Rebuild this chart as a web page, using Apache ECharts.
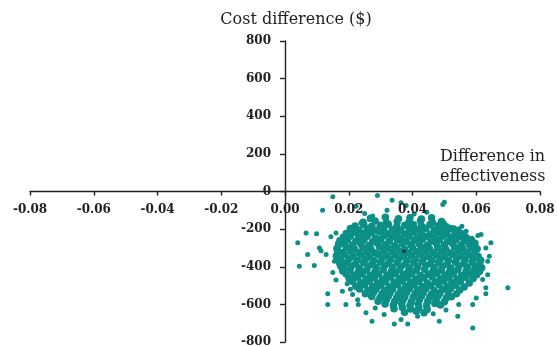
<!DOCTYPE html>
<html>
<head>
<meta charset="utf-8">
<script src="https://cdn.jsdelivr.net/npm/echarts@6/dist/echarts.min.js"></script>
<style>
  html, body { margin: 0; padding: 0; background: #fff; }
  #chart { width: 558px; height: 346px; }
</style>
</head>
<body>
<div id="chart"></div>
<script>
// axis ticks
const xTicks = [-0.08, -0.06, -0.04, -0.02, 0, 0.02, 0.04, 0.06, 0.08];
const yTicks = [-800, -600, -400, -200, 0, 200, 400, 600, 800];

// bootstrap replicates: [effect difference, cost difference]
const cloudCore = [
  [0.0268,-142],[0.0315,-137],[0.0356,-145],[0.0392,-139],[0.0428,-146],[0.046,-140],
  [0.0245,-163],[0.0283,-157],[0.0318,-166],[0.0352,-159],[0.0389,-164],[0.0425,-156],[0.0462,-165],[0.0491,-159],
  [0.022,-183],[0.0247,-176],[0.0272,-185],[0.0299,-179],[0.0324,-174],[0.0351,-186],[0.0376,-180],[0.0403,-177],[0.0428,-184],[0.0455,-175],[0.0481,-182],[0.0506,-188],
  [0.0205,-197],[0.0232,-204],[0.0258,-198],[0.0285,-206],[0.031,-195],[0.0337,-202],[0.0363,-207],[0.039,-199],[0.0415,-203],[0.0442,-196],[0.0468,-205],[0.0494,-200],[0.052,-197],[0.0543,-206],
  [0.0192,-223],[0.0218,-216],[0.0245,-225],[0.027,-219],[0.0297,-214],[0.0323,-224],[0.035,-218],[0.0376,-226],[0.0402,-215],[0.0428,-221],[0.0455,-227],[0.048,-217],[0.0507,-224],[0.0533,-219],[0.0558,-226],
  [0.0183,-243],[0.0205,-236],[0.0231,-245],[0.0258,-238],[0.0284,-247],[0.031,-235],[0.0337,-242],[0.0362,-248],[0.0389,-237],[0.0415,-244],[0.0441,-239],[0.0468,-246],[0.0494,-236],[0.052,-243],[0.0546,-238],[0.0568,-245],
  [0.0172,-262],[0.0196,-256],[0.0222,-265],[0.0248,-258],[0.0275,-267],[0.03,-255],[0.0327,-263],[0.0353,-257],[0.038,-266],[0.0405,-259],[0.0432,-254],[0.0458,-264],[0.0484,-258],[0.051,-266],[0.0537,-255],[0.0562,-262],[0.0585,-257],
  [0.0168,-284],[0.0186,-276],[0.0212,-285],[0.0238,-278],[0.0264,-287],[0.029,-275],[0.0316,-282],[0.0343,-288],[0.0368,-277],[0.0395,-284],[0.0421,-279],[0.0447,-286],[0.0474,-274],[0.05,-283],[0.0526,-277],[0.0552,-286],[0.0578,-280],[0.0596,-275],
  [0.0163,-303],[0.0192,-296],[0.0218,-305],[0.0244,-298],[0.027,-307],[0.0297,-295],[0.0322,-302],[0.0349,-297],[0.0375,-306],[0.04,-299],[0.0427,-294],[0.0453,-304],[0.0479,-298],[0.0505,-307],[0.0532,-296],[0.0558,-303],[0.0584,-297],[0.0603,-305],
  [0.0165,-318],[0.0181,-324],[0.0206,-316],[0.0232,-325],[0.0258,-319],[0.0284,-327],[0.031,-315],[0.0336,-322],[0.0362,-317],[0.0388,-326],[0.0414,-320],[0.044,-314],[0.0466,-324],[0.0492,-318],[0.0518,-327],[0.0544,-316],[0.057,-323],[0.0596,-317],
  [0.0161,-343],[0.0188,-336],[0.0214,-345],[0.024,-338],[0.0266,-347],[0.0293,-335],[0.0318,-342],[0.0345,-337],[0.0371,-346],[0.0397,-339],[0.0423,-334],[0.0449,-344],[0.0475,-338],[0.0501,-347],[0.0528,-336],[0.0554,-343],[0.058,-337],[0.0606,-345],
  [0.0168,-358],[0.0175,-366],[0.0201,-357],[0.0227,-365],[0.0253,-359],[0.0279,-367],[0.0305,-355],[0.0331,-362],[0.0357,-357],[0.0383,-366],[0.0409,-360],[0.0435,-354],[0.0461,-364],[0.0487,-358],[0.0513,-367],[0.0539,-356],[0.0565,-363],[0.0591,-357],[0.0614,-365],
  [0.0172,-383],[0.0195,-376],[0.0221,-385],[0.0247,-378],[0.0273,-387],[0.03,-375],[0.0325,-382],[0.0352,-377],[0.0378,-386],[0.0404,-379],[0.043,-374],[0.0456,-384],[0.0482,-378],[0.0508,-387],[0.0535,-376],[0.0561,-383],[0.0587,-377],[0.0611,-385],
  [0.0175,-398],[0.0183,-405],[0.0208,-397],[0.0234,-406],[0.026,-399],[0.0286,-404],[0.0312,-395],[0.0338,-402],[0.0364,-397],[0.039,-406],[0.0416,-400],[0.0442,-394],[0.0468,-404],[0.0494,-398],[0.052,-407],[0.0546,-396],[0.0572,-403],[0.0598,-397],[0.0617,-405],
  [0.0181,-423],[0.0204,-416],[0.023,-425],[0.0256,-418],[0.0282,-427],[0.0308,-415],[0.0334,-422],[0.036,-417],[0.0386,-426],[0.0412,-419],[0.0438,-414],[0.0464,-424],[0.049,-418],[0.0516,-427],[0.0542,-416],[0.0568,-423],[0.0594,-417],[0.061,-425],
  [0.0192,-438],[0.0216,-445],[0.0242,-437],[0.0268,-446],[0.0294,-439],[0.032,-444],[0.0346,-435],[0.0372,-442],[0.0398,-437],[0.0424,-446],[0.045,-440],[0.0476,-434],[0.0502,-444],[0.0528,-438],[0.0554,-447],[0.058,-436],[0.0601,-443],
  [0.0201,-463],[0.0228,-456],[0.0254,-465],[0.028,-458],[0.0306,-467],[0.0332,-455],[0.0358,-462],[0.0384,-457],[0.041,-466],[0.0436,-459],[0.0462,-454],[0.0488,-464],[0.0514,-458],[0.054,-467],[0.0566,-456],[0.059,-463],
  [0.0212,-478],[0.0238,-485],[0.0264,-477],[0.029,-486],[0.0316,-479],[0.0342,-484],[0.0368,-475],[0.0394,-482],[0.042,-477],[0.0446,-486],[0.0472,-480],[0.0498,-474],[0.0524,-484],[0.055,-478],[0.0578,-486],
  [0.0222,-503],[0.0249,-496],[0.0275,-505],[0.0301,-498],[0.0327,-507],[0.0353,-495],[0.0379,-502],[0.0405,-497],[0.0431,-506],[0.0457,-499],[0.0483,-494],[0.0509,-504],[0.0535,-498],[0.0562,-507],
  [0.0234,-518],[0.026,-525],[0.0286,-517],[0.0312,-526],[0.0338,-519],[0.0364,-524],[0.039,-515],[0.0416,-522],[0.0442,-517],[0.0468,-526],[0.0494,-520],[0.052,-514],[0.0548,-524],
  [0.0252,-543],[0.0278,-536],[0.0304,-545],[0.033,-538],[0.0356,-547],[0.0382,-535],[0.0408,-542],[0.0434,-537],[0.046,-546],[0.0486,-539],[0.0512,-534],[0.0538,-544],
  [0.0272,-558],[0.0298,-565],[0.0324,-557],[0.035,-566],[0.0376,-559],[0.0402,-564],[0.0428,-555],[0.0454,-562],[0.048,-557],[0.0506,-566],[0.0522,-560],
  [0.0292,-583],[0.0318,-576],[0.0344,-585],[0.037,-578],[0.0396,-587],[0.0422,-575],[0.0448,-582],[0.0474,-577],[0.05,-586],
  [0.0314,-598],[0.034,-605],[0.0366,-597],[0.0392,-606],[0.0418,-599],[0.0444,-604],[0.047,-595],[0.0488,-603],
  [0.0342,-623],[0.0368,-616],[0.0394,-625],[0.042,-618],[0.0446,-627],
  [0.0375,-642],[0.0412,-636],[0.0436,-645]
];

// scattered replicates around the edge of the cloud
const cloudFringe = [
  [0.015,-28],[0.029,-21],[0.0118,-100],[0.0223,-78],[0.025,-117],[0.0336,-46],[0.0364,-60],[0.038,-75],
  [0.05,-57],[0.0495,-69],[0.0066,-220],[0.0099,-225],[0.004,-273],[0.016,-220],[0.0144,-241],[0.0165,-273],
  [0.0108,-300],[0.0113,-315],[0.0129,-335],[0.0071,-335],[0.0045,-397],[0.0092,-394],[0.0155,-371],
  [0.0197,-220],[0.0207,-202],[0.0223,-185],[0.0238,-167],[0.0265,-149],[0.05,-167],[0.0531,-193],
  [0.0568,-211],[0.0615,-229],[0.0605,-234],[0.0646,-273],[0.063,-300],[0.0641,-344],[0.0636,-371],
  [0.0134,-544],[0.0134,-601],[0.0191,-601],[0.018,-530],[0.0212,-548],[0.0228,-575],[0.0254,-645],
  [0.0273,-690],[0.0343,-704],[0.0364,-681],[0.0385,-704],[0.0311,-654],[0.0283,-619],[0.0699,-512],
  [0.0589,-725],[0.0636,-442],[0.063,-512],[0.063,-544],[0.06,-566],[0.0589,-601],[0.062,-468],
  [0.061,-415],[0.0542,-663],[0.0484,-690],[0.0416,-663],[0.0405,-120],[0.0445,-110],[0.032,-100],
  [0.0275,-130],[0.0555,-185],[0.0585,-250],[0.0545,-600],[0.0505,-630],[0.0465,-650],[0.023,-600],
  [0.0195,-490],[0.015,-430],[0.016,-470],[0.0205,-520]
];

// mean of the replicates (dark dot)
const cloudMean = [[0.0374,-318]];

const chart = echarts.init(document.getElementById('chart'));
const serif = '"DejaVu Serif", "Liberation Serif", serif';
const dotColor = '#0b8f86';

const W = 558;
const H = 346;
const gridLeft = 30;
const gridRight = 18;
const gridTop = 41;
const gridBottom = 4;
// the axes cross in the middle of the plane; shift them there with offset so labels follow
const xAxisShift = -((H - gridTop - gridBottom) / 2);
const yAxisShift = -((W - gridLeft - gridRight) / 2);

const option = {
  backgroundColor: '#fff',
  animation: false,
  grid: {
    left: gridLeft,
    right: gridRight,
    top: gridTop,
    bottom: gridBottom,
    outerBoundsMode: 'none',
  },
  xAxis: {
    type: 'value',
    position: 'bottom',
    offset: xAxisShift,
    z: 4, // tick labels sit on top of the cloud
    min: xTicks[0],
    max: xTicks[xTicks.length - 1],
    interval: 0.02,
    axisLine: { onZero: false, lineStyle: { color: '#222', width: 1.4 } },
    axisTick: { show: true, length: 4, lineStyle: { color: '#222', width: 1.4 } },
    axisLabel: {
      margin: 12,
      color: '#222',
      fontFamily: serif,
      fontWeight: 'bold',
      fontSize: 12,
      hideOverlap: false,
      formatter(v) {
        if (Math.abs(v) < 1e-9) return '0.00';
        return v.toFixed(2);
      },
    },
    splitLine: { show: false },
  },
  yAxis: {
    type: 'value',
    position: 'left',
    offset: yAxisShift,
    min: yTicks[0],
    max: yTicks[yTicks.length - 1],
    interval: 200,
    axisLine: { onZero: false, lineStyle: { color: '#222', width: 1.4 } },
    axisTick: { show: true, length: 5, lineStyle: { color: '#222', width: 1.4 } },
    axisLabel: {
      margin: 14,
      color: '#222',
      fontFamily: serif,
      fontWeight: 'bold',
      fontSize: 12,
      hideOverlap: false,
    },
    splitLine: { show: false },
  },
  graphic: [
    {
      type: 'text',
      x: 296,
      y: 20,
      style: {
        text: 'Cost difference ($)',
        font: '16px ' + serif,
        fill: '#222',
        align: 'center',
        verticalAlign: 'middle',
      },
    },
    {
      type: 'text',
      x: 440,
      y: 147,
      style: {
        text: 'Difference in\neffectiveness',
        font: '16px ' + serif,
        lineHeight: 20,
        fill: '#222',
        align: 'left',
        verticalAlign: 'top',
      },
    },
  ],
  series: [
    {
      type: 'scatter',
      data: cloudCore,
      symbolSize: 7.5,
      itemStyle: { color: dotColor, opacity: 1 },
    },
    {
      type: 'scatter',
      data: cloudFringe,
      symbolSize: 5,
      itemStyle: { color: dotColor, opacity: 1 },
    },
    {
      type: 'scatter',
      data: cloudMean,
      symbolSize: 4,
      itemStyle: { color: '#1b2b2a' },
      z: 5,
    },
  ],
};

chart.setOption(option);
</script>
</body>
</html>
